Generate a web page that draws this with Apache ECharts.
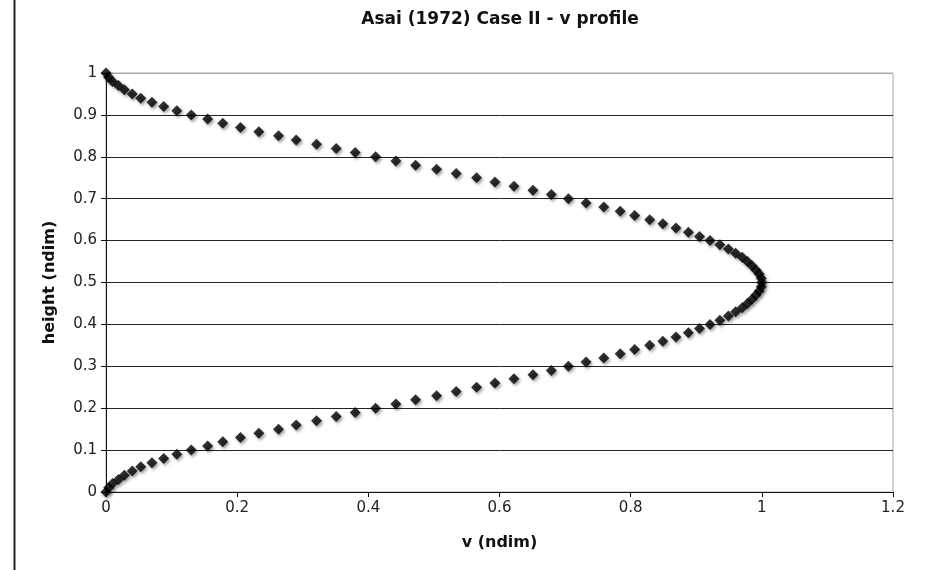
<!DOCTYPE html>
<html>
<head>
<meta charset="utf-8">
<script src="https://cdn.jsdelivr.net/npm/echarts@6/dist/echarts.min.js"></script>
<style>html,body{margin:0;padding:0;background:#fff;}#c{width:927px;height:570px;}</style>
</head>
<body>
<div id="c"></div>
<script>
// height (ndim), from 0 to 1
var heights = [0.00,0.01,0.02,0.03,0.04,0.05,0.06,0.07,0.08,0.09,
  0.10,0.11,0.12,0.13,0.14,0.15,0.16,0.17,0.18,0.19,
  0.20,0.21,0.22,0.23,0.24,0.25,0.26,0.27,0.28,0.29,
  0.30,0.31,0.32,0.33,0.34,0.35,0.36,0.37,0.38,0.39,
  0.40,0.41,0.42,0.43,0.44,0.45,0.46,0.47,0.48,0.49,
  0.50,0.51,0.52,0.53,0.54,0.55,0.56,0.57,0.58,0.59,
  0.60,0.61,0.62,0.63,0.64,0.65,0.66,0.67,0.68,0.69,
  0.70,0.71,0.72,0.73,0.74,0.75,0.76,0.77,0.78,0.79,
  0.80,0.81,0.82,0.83,0.84,0.85,0.86,0.87,0.88,0.89,
  0.90,0.91,0.92,0.93,0.94,0.95,0.96,0.97,0.98,0.99,1.00];
// v (ndim), one per height
var vValues = [0.000,0.004,0.010,0.019,0.028,0.040,0.053,0.070,0.088,0.108,
  0.130,0.155,0.178,0.205,0.233,0.263,0.290,0.321,0.351,0.380,
  0.411,0.442,0.472,0.504,0.534,0.565,0.593,0.622,0.651,0.679,
  0.705,0.732,0.759,0.784,0.806,0.829,0.849,0.869,0.888,0.905,
  0.921,0.936,0.949,0.960,0.970,0.978,0.985,0.991,0.996,0.999,
  1.000,0.999,0.996,0.991,0.985,0.978,0.970,0.960,0.949,0.936,
  0.921,0.905,0.888,0.869,0.849,0.829,0.806,0.784,0.759,0.732,
  0.705,0.679,0.651,0.622,0.593,0.565,0.534,0.504,0.472,0.442,
  0.411,0.380,0.351,0.321,0.290,0.263,0.233,0.205,0.178,0.155,
  0.130,0.108,0.088,0.070,0.053,0.040,0.028,0.019,0.010,0.004,0.000];
var xTickLabels = ['0','0.2','0.4','0.6','0.8','1','1.2'];
var yTickLabels = ['0','0.1','0.2','0.3','0.4','0.5','0.6','0.7','0.8','0.9','1'];
var titleText = 'Asai (1972) Case II - v profile';
var xName = 'v (ndim)';
var yName = 'height (ndim)';

var points = heights.map(function (h, i) { return [vValues[i], h]; });
var FONT = '"DejaVu Sans", Verdana, sans-serif';

var chart = echarts.init(document.getElementById('c'), null, {renderer: 'canvas'});
var ySplitColors = yTickLabels.map(function (t, i) { return i === yTickLabels.length - 1 ? '#a8a8a8' : '#222'; });
chart.setOption({
  backgroundColor: '#fff',
  animation: false,
  title: {
    text: titleText,
    left: 495, top: 6, textAlign: 'center',
    textStyle: {fontFamily: FONT, fontWeight: 'bold', fontSize: 17, color: '#111'}
  },
  graphic: [{
    type: 'line', silent: true,
    shape: {x1: 14.5, y1: 0, x2: 14.5, y2: 570},
    style: {stroke: '#222', lineWidth: 2}
  }],
  grid: {left: 106, right: 34, top: 73, bottom: 78, show: true, borderColor: '#a8a8a8', borderWidth: 1, backgroundColor: 'transparent'},
  xAxis: {
    type: 'value', min: 0, max: 1.2, interval: 0.2,
    name: xName, nameLocation: 'middle', nameGap: 43,
    nameTextStyle: {fontFamily: FONT, fontWeight: 'bold', fontSize: 16, color: '#111'},
    axisLine: {show: true, onZero: false, lineStyle: {color: '#111', width: 1}},
    axisTick: {show: true, inside: false, length: 5, lineStyle: {color: '#111'}},
    axisLabel: {margin: 9, fontFamily: FONT, fontSize: 15, color: '#222',
      formatter: function (v) { return xTickLabels[Math.round(v / 0.2)]; }},
    splitLine: {show: false}
  },
  yAxis: {
    type: 'value', min: 0, max: 1, interval: 0.1,
    name: yName, nameLocation: 'middle', nameGap: 48, nameRotate: 90,
    nameTextStyle: {fontFamily: FONT, fontWeight: 'bold', fontSize: 16, color: '#111'},
    axisLine: {show: true, onZero: false, lineStyle: {color: '#111', width: 1}},
    axisTick: {show: true, inside: false, length: 5, lineStyle: {color: '#111'}},
    axisLabel: {margin: 9, fontFamily: FONT, fontSize: 15, color: '#222',
      formatter: function (v) { return yTickLabels[Math.round(v / 0.1)]; }},
    splitLine: {show: true, lineStyle: {color: ySplitColors, width: 1}}
  },
  series: [{
    type: 'scatter',
    data: points,
    symbol: 'diamond',
    symbolSize: 11,
    itemStyle: {color: '#000', shadowColor: 'rgba(0,0,0,0.45)', shadowBlur: 3, shadowOffsetX: 1.5, shadowOffsetY: 2},
    clip: false
  }]
});
</script>
</body>
</html>
